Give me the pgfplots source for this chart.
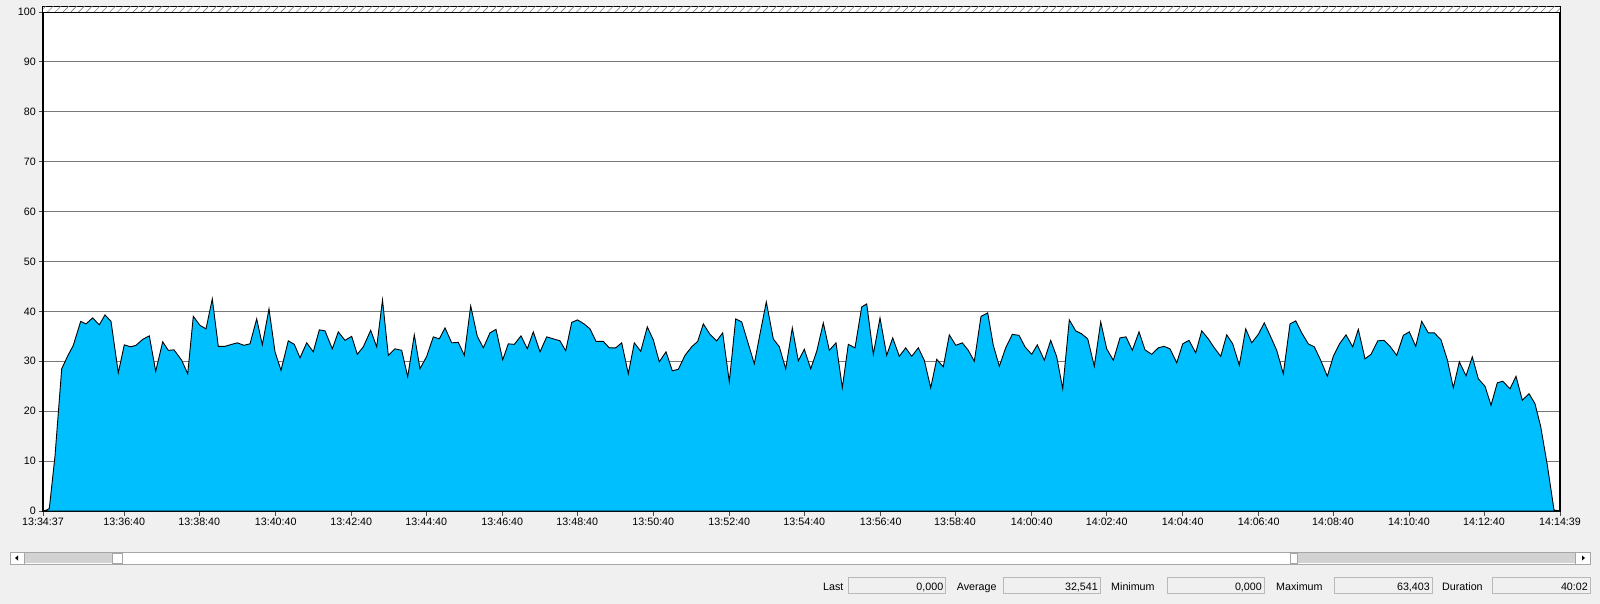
\documentclass[border=0pt]{standalone}
\usepackage{pgfplots}
\pgfplotsset{compat=1.18}
\usepackage{fontspec}
\setmainfont{Liberation Sans}
\usetikzlibrary{patterns.meta}

\definecolor{bg}{RGB}{240,240,240}
\definecolor{areafill}{RGB}{0,191,255}
\definecolor{gridc}{RGB}{120,120,120}

% x is the position along the time axis (13:34:37 at 43, 14:14:39 at 1560)
\pgfplotstableread{
x y
43 0
46.7 0.2
49.3 0.5
55 11
61.7 28.5
67.5 31
73.3 33.2
80.7 38
86 37.5
92.7 38.7
99.3 37.3
105 39.3
111 38
118.3 27.7
124.3 33.3
130.7 32.9
136 33.2
142.7 34.4
149.3 35.1
155.7 28
162.7 33.9
168.3 32.2
174 32.3
181.7 30.2
187.7 27.5
193.3 39
200 37.2
206 36.5
212.3 42.5
218.3 33
225 33
231.7 33.4
237.3 33.7
244 33.2
250 33.5
256.7 38.5
262.3 33.3
269 40.5
275 31.9
281 28.2
288.3 34.1
294.3 33.4
300 30.7
306.7 33.7
313.3 31.9
319.3 36.3
325 36.1
332.3 32.5
338.3 35.9
345 34.2
351.7 35
357.3 31.4
363.3 32.9
370.7 36.2
376.7 32.9
382.5 42.3
388.3 31.2
395 32.5
401.7 32.2
407.7 26.9
414.3 35.3
420 28.5
426.7 31
433.3 34.9
439.3 34.5
445 36.7
451.7 33.7
458.3 33.8
464.3 31.2
470.7 41.1
477.3 35
483.3 32.7
490 35.7
496 36.4
502.7 30.3
508.3 33.5
514.3 33.4
521 35.1
527.3 32.5
533.3 35.9
540 31.9
546.7 34.9
553.3 34.5
560 34.1
565.7 32.1
571.7 37.8
577.5 38.3
584 37.5
590 36.5
596 34
603.3 34
609.3 32.7
615.7 32.7
621.7 33.7
628.3 27.5
634.3 33.7
640.7 32
647.3 36.9
653.3 34.3
659.3 29.9
666 31.9
672.3 28.1
678.3 28.4
685 31.2
691.7 32.9
697.7 34
703.3 37.5
710 35.4
716.7 34.1
722.7 35.7
729.3 25.9
735.7 38.5
741.7 37.9
748.3 33.5
754.3 29.5
760 35.5
766.3 41.9
773.3 34.5
779.3 32.9
785.7 28.5
792.3 36.7
798.3 30.1
804.3 32.4
810.7 28.5
816.7 32
823.3 37.7
829.3 32.2
836 33.7
842.3 24.7
848.3 33.4
855 32.7
861.7 40.9
866.7 41.5
873.3 31.4
880 38.7
886.7 31.2
892.7 34.7
899.3 31
905.7 32.7
911.7 31
918.3 32.7
924.3 30.2
930.7 24.7
936.7 30.4
943.3 28.9
949.3 35.3
955.8 33.2
962.3 33.7
968.3 32.2
974.3 30
981 39
987.7 39.7
993.3 33.2
999.3 29
1005.7 32.7
1012.3 35.4
1019 35.2
1025 32.9
1031.7 31.4
1037.3 33.3
1044.3 30.2
1050.7 34.2
1056.7 30.9
1062.7 24.5
1069.3 38.3
1075.7 36.1
1081.7 35.5
1087.7 34.5
1094.3 29
1100.7 37.9
1106.7 32.5
1113.3 30.2
1120 34.7
1126 34.9
1132.3 32.2
1139 35.9
1145 32.3
1151.7 31.4
1158.3 32.7
1164 33
1170 32.5
1176.7 29.7
1182.7 33.5
1189 34.2
1195.7 31.7
1201.7 36.1
1208.3 34.5
1214.3 32.7
1220.7 31
1226.7 35.3
1232.7 33.5
1239.3 29.2
1245.7 36.5
1251.7 33.7
1258.3 35.4
1264.3 37.7
1270.7 34.9
1276.7 32.2
1283.3 27.5
1290 37.5
1295.7 38.1
1301.7 35.7
1308.3 33.5
1314.3 32.9
1320.7 30.2
1327.3 27
1333.3 31
1339.5 33.5
1346 35.3
1352.7 32.9
1358.3 36.4
1365 30.5
1371 31.4
1377.7 34.1
1384 34.2
1390 33
1396.7 31.2
1403.3 35.2
1409.3 35.9
1415.7 33
1421.7 38
1428.3 35.7
1434.3 35.7
1441 34.3
1447.3 30.3
1453.3 24.7
1459.3 29.9
1466 27.1
1472.3 30.9
1478.3 26.5
1485 25
1491 21.2
1497.3 25.7
1502.7 26
1510 24.5
1516 27
1522.3 22.2
1529 23.5
1535 21.5
1540.7 16.9
1547.3 9.2
1554 0.2
1560 0
}\cpudata

\begin{document}
\fontsize{10.7}{12.5}\selectfont
\begin{tikzpicture}[x=1pt,y=1pt]
\fill[bg] (0,0) rectangle (1600,-604);

\begin{axis}[
    at={(43pt,-511pt)}, anchor=south west,
    scale only axis, width=1517pt, height=504pt,
    xmin=43, xmax=1560, ymin=0, ymax=101,
    axis background/.style={fill=white},
    axis line style={black, line width=1.2pt},
    ytick={0,10,...,100},
    xtick={43,124.3,199.3,275.7,351.3,426.3,502.3,577.3,653.3,729.3,804.3,880.7,955,1031.7,1106.7,1182.7,1258.7,1333,1409,1484,1560},
    xticklabels={13:34:37,13:36:40,13:38:40,13:40:40,13:42:40,13:44:40,13:46:40,13:48:40,13:50:40,13:52:40,13:54:40,13:56:40,13:58:40,14:00:40,14:02:40,14:04:40,14:06:40,14:08:40,14:10:40,14:12:40,14:14:39},
    tick pos=left,
    tick align=outside,
    major tick length=4.5pt,
    tick style={black!70, line width=0.8pt},
    ymajorgrids,
    grid style={gridc, line width=0.9pt},
    every tick label/.append style={font=\fontsize{10.7}{12.5}\selectfont, text=black},
    /pgf/number format/assume math mode=true,
    yticklabel style={xshift=1pt},
    xticklabel style={yshift=1pt},
]
\addplot[draw=black, line width=0.9pt, fill=areafill] table[x=x,y=y] {\cpudata} \closedcycle;
\fill[white] (axis cs:43,100) rectangle (axis cs:1560,101);
\fill[pattern={Lines[angle=45,distance=5.5pt,line width=0.6pt]}, pattern color=gray] (axis cs:43,100) rectangle (axis cs:1560,101);
\draw[black, line width=0.9pt] (axis cs:43,100) -- (axis cs:1560,100);
\end{axis}

% scroll bar
\fill[white] (10,-552) rectangle (1590,-564);
\fill[gray!35] (24.5,-553) rectangle (112,-563);
\fill[gray!35] (1297,-553) rectangle (1575,-563);
\draw[gray!70, line width=0.8pt] (10,-552) rectangle (1590,-564);
\draw[gray!70, line width=0.8pt] (24.5,-552) -- (24.5,-564);
\draw[gray!70, line width=0.8pt] (1575,-552) -- (1575,-564);
\draw[gray!70, line width=0.8pt] (112,-553) rectangle (122.5,-563);
\draw[gray!70, line width=0.8pt] (1290,-553) rectangle (1297,-563);
\fill[black] (15,-558) -- (18,-555.5) -- (18,-560.5) -- cycle;
\fill[black] (1585,-558) -- (1582,-555.5) -- (1582,-560.5) -- cycle;

% status bar
\foreach \lab/\lx/\bx/\ex/\val in {Last/823/848.5/945.4/{0,000},Average/956.6/1003/1100/{32,541},Minimum/1111/1167/1264/{0,000},Maximum/1276/1334/1432/{63,403},Duration/1442/1492/1590/{40:02}}{
  \node[anchor=base west, inner sep=0pt] at (\lx,-590) {\lab};
  \draw[gray!55, line width=0.8pt] (\bx,-577.5) rectangle (\ex,-593.5);
  \node[anchor=base east, inner sep=0pt] at (\ex-2,-590) {\val};
}
\end{tikzpicture}
\end{document}
